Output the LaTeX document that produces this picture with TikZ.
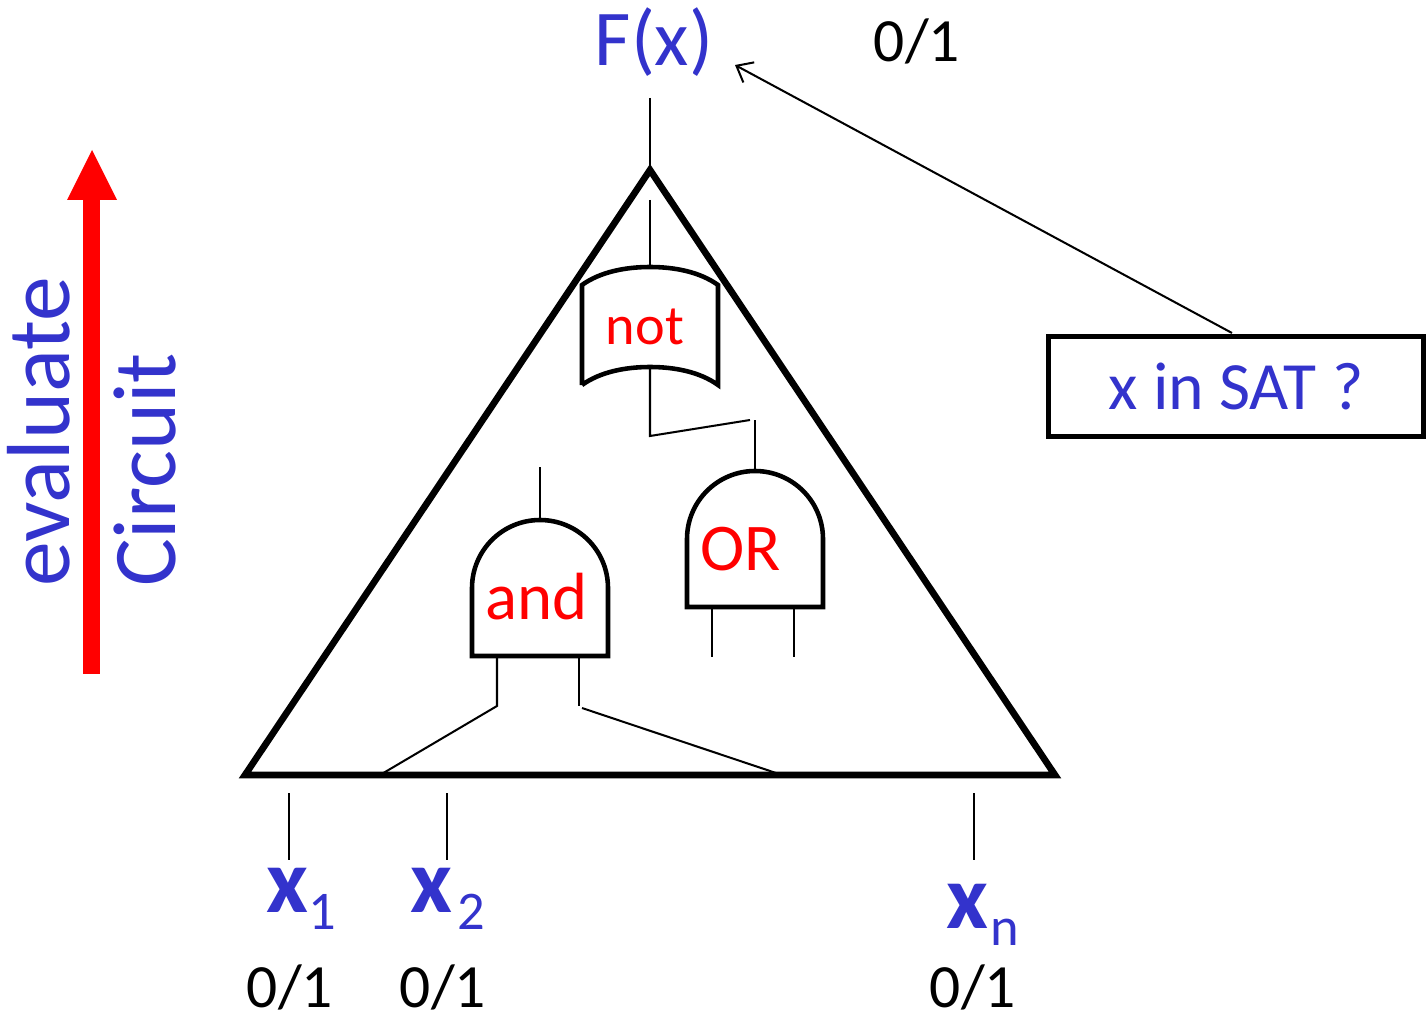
\documentclass[tikz,border=0pt]{standalone}
\usepackage{fontspec}
\setmainfont{Carlito}
\usetikzlibrary{arrows.meta,positioning}
\definecolor{labelblue}{HTML}{3333CC}
\definecolor{gatered}{HTML}{FF0000}
\tikzset{
  outline/.style={draw=black, line width=3.8pt, line join=miter},
  gatebody/.style={draw=black, line width=2.6pt},
  wire/.style={draw=black, line width=1.15pt},
  feedback/.style={wire, -{Straight Barb[length=8pt,width=13pt]}},
  gatetext/.style={text=gatered, font=\fontsize{32}{32}\selectfont, inner sep=0pt},
  bluetext/.style={text=labelblue, font=\fontsize{45}{45}\selectfont, inner sep=0pt},
  sidetext/.style={bluetext, font=\fontsize{51}{51}\selectfont, rotate=90},
  bittext/.style={text=black, font=\fontsize{35}{35}\selectfont, inner sep=0pt},
  varname/.style={text=labelblue, font=\fontsize{52}{52}\selectfont\bfseries, inner sep=0pt, anchor=base west},
  querybox/.style={draw=black, line width=2.9pt, minimum width=7.51cm, minimum height=2.0cm,
    inner sep=0pt, text=labelblue, font=\fontsize{38.5}{38.5}\selectfont},
}
% gate with a round top: left edge, bottom edge, name
\newcommand{\andgate}[3]{%
  \begin{scope}[shift={(#1,#2)}]
    \draw[gatebody] (0,0) -- (0,-68) arc[start angle=180,end angle=360,radius=68] -- (136,0) -- cycle;
    \coordinate (#3top) at (68,-136);
    \coordinate (#3a) at (25,0);
    \coordinate (#3b) at (107,0);
  \end{scope}}
\newcommand{\varlabel}[4]{%
  \node[varname] (#1) at (#2,#3) {x\raisebox{-10pt}{\fontsize{31}{31}\selectfont\mdseries #4}};}
\begin{document}
\begin{tikzpicture}[x=0.02cm,y=-0.02cm]
  \useasboundingbox (0,0) rectangle (1428,1017);
  % big triangle
  \coordinate (apex) at (650,170);
  \coordinate (lcorner) at (245,775);
  \coordinate (rcorner) at (1055,775);
  \draw[outline] (apex) -- (lcorner) -- (rcorner) -- cycle;
  % evaluation arrow
  \fill[gatered] (83,674) rectangle (100,200);
  \fill[gatered] (67,200) -- (92,150) -- (117,200) -- cycle;
  \node[sidetext] (evallabel) at (39,432) {evaluate};
  \node[sidetext] (circlabel) at (145,470) {Circuit};
  % output
  \node[bluetext] (fx) at (654,42) {F(x)};
  \node[bittext] (fxbit) at (917,41) {0/1};
  \coordinate (fxwire) at (650,98);
  \draw[wire] (fxwire) -- (apex);
  % query box
  \node[querybox] (satbox) at (1236,386.5) {x in SAT ?};
  \coordinate (satout) at (1232,333);
  \coordinate (fxtip) at (735,65);
  \draw[feedback] (satout) -- (fxtip);
  % not gate
  \draw[gatebody] (582,385) -- (582,285) .. controls (600,272) and (625,267) .. (650,267)
    .. controls (675,267) and (700,272) .. (718,285) -- (718,385)
    .. controls (700,372) and (675,367) .. (650,367)
    .. controls (625,367) and (600,372) .. (582,385);
  \node[gatetext] (notlabel) at (645,327) {not};
  \coordinate (nottop) at (650,267);
  \coordinate (notout) at (650,200);
  \coordinate (notbot) at (650,367);
  \coordinate (notbend) at (650,436);
  \coordinate (notend) at (750,420);
  \draw[wire] (notout) -- (nottop);
  \draw[wire] (notbot) -- (notbend) -- (notend);
  % or gate
  \andgate{687}{607}{or}
  \node[gatetext, font=\fontsize{38}{38}\selectfont] (orlabel) at (741,549) {OR};
  \coordinate (orout) at (755,420);
  \coordinate (orlegA) at (712,657);
  \coordinate (orlegB) at (794,657);
  \draw[wire] (orout) -- (ortop);
  \draw[wire] (ora) -- (orlegA);
  \draw[wire] (orb) -- (orlegB);
  % and gate
  \andgate{472}{656}{and}
  \node[gatetext, font=\fontsize{38}{38}\selectfont] (andlabel) at (537,597) {and};
  \coordinate (andout) at (540,467);
  \coordinate (andbendA) at (497,706);
  \coordinate (andbendB) at (579,706);
  \coordinate (andstart) at (582,708);
  \coordinate (lfoot) at (380,775);
  \coordinate (rfoot) at (782,775);
  \draw[wire] (andout) -- (andtop);
  \draw[wire] (anda) -- (andbendA) -- (lfoot);
  \draw[wire] (andb) -- (andbendB);
  \draw[wire] (andstart) -- (rfoot);
  % inputs
  \foreach \name/\xx in {one/289,two/447,last/974} {
    \coordinate (\name top) at (\xx,793);
    \coordinate (\name bot) at (\xx,860);
    \draw[wire] (\name top) -- (\name bot);
  }
  \varlabel{xone}{266}{912}{1}
  \varlabel{xtwo}{410}{912}{\kern3pt 2}
  \varlabel{xlast}{946}{928}{\kern1pt n}
  \node[bittext] (bitone) at (290,987) {0/1};
  \node[bittext] (bittwo) at (443,987) {0/1};
  \node[bittext] (bitlast) at (973,987) {0/1};
\end{tikzpicture}
\end{document}
